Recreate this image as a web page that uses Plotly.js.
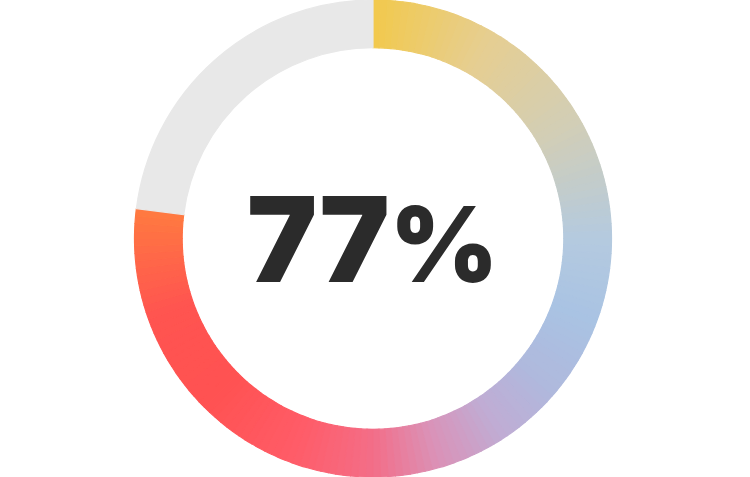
<!DOCTYPE html>
<html>
<head>
<meta charset="utf-8">
<script src="https://cdn.plot.ly/plotly-3.0.1.min.js"></script>
<style>html,body{margin:0;padding:0;background:#fff;}#chart{width:750px;height:477px;}</style>
</head>
<body>
<div id="chart"></div>
<script>
// Data
const labels = ["Complete", "Remaining"];
const values = [77, 23];
const centerLabel = "77%";

// Style: gradient stops along the completed arc (fraction of arc, colour)
const gradientStops = [
  [0.000, [242, 201, 76]],
  [0.108, [230, 206, 145]],
  [0.217, [210, 206, 182]],
  [0.325, [180, 202, 223]],
  [0.397, [169, 195, 227]],
  [0.469, [175, 185, 221]],
  [0.530, [192, 172, 212]],
  [0.590, [218, 146, 184]],
  [0.650, [243, 110, 136]],
  [0.722, [255, 92, 104]],
  [0.812, [255, 82, 82]],
  [0.903, [255, 84, 80]],
  [0.957, [255, 104, 72]],
  [1.000, [255, 122, 64]]
];
const remainderColor = "#e8e8e8";
const segmentsPerUnit = 2;

function colorAt(t) {
  for (let i = 1; i < gradientStops.length; i++) {
    const a = gradientStops[i - 1], b = gradientStops[i];
    if (t <= b[0]) {
      const f = (t - a[0]) / (b[0] - a[0]);
      const c = a[1].map((v, k) => Math.round(v + (b[1][k] - v) * f));
      return "rgb(" + c.join(",") + ")";
    }
  }
  const c = gradientStops[gradientStops.length - 1][1];
  return "rgb(" + c.join(",") + ")";
}

// Split the completed value into equal pieces purely to paint the gradient
const nSeg = values[0] * segmentsPerUnit;
const segValues = [], segColors = [], segLabels = [];
for (let i = 0; i < nSeg; i++) {
  segValues.push(values[0] / nSeg);
  segColors.push(colorAt((i + 0.5) / nSeg));
  segLabels.push(labels[0] + " " + i);
}
segValues.push(values[1]);
segColors.push(remainderColor);
segLabels.push(labels[1]);

const trace = {
  type: "pie",
  labels: segLabels,
  values: segValues,
  sort: false,
  direction: "clockwise",
  rotation: 0,
  hole: 0.8,
  textinfo: "none",
  hoverinfo: "skip",
  showlegend: false,
  marker: { colors: segColors, line: { color: segColors, width: 1.2 } },
  domain: { x: [0, 746 / 750], y: [0, 1] }
};

const layout = {
  width: 750, height: 477,
  margin: { l: 0, r: 0, t: 0, b: 0 },
  paper_bgcolor: "#ffffff",
  showlegend: false,
  annotations: [{
    text: "77<span style=\"font-size:104px\">%</span>",
    x: 372 / 750, y: 0.5, xref: "paper", yref: "paper",
    xanchor: "center", yanchor: "middle", showarrow: false,
    font: { family: "Inter, Roboto, sans-serif", size: 118, color: "#2b2b2b", weight: 900 }
  }]
};

Plotly.newPlot("chart", [trace], layout, { displayModeBar: false, staticPlot: true });
</script>
</body>
</html>
